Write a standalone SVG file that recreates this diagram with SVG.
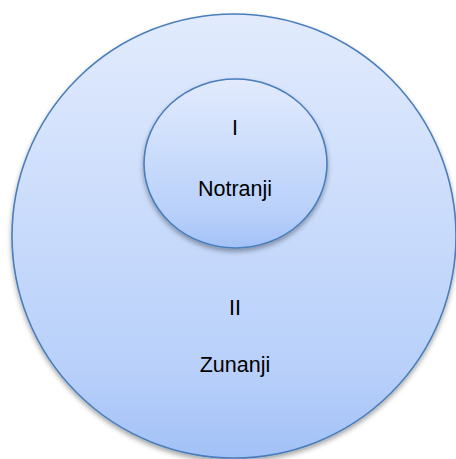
<svg xmlns="http://www.w3.org/2000/svg" width="456" height="459" viewBox="0 0 456 459">
<defs>
<linearGradient id="g" x1="0" y1="0" x2="0" y2="1">
<stop offset="0" stop-color="#e2ebfd"/>
<stop offset="0.8" stop-color="#b8d0fa"/>
<stop offset="1" stop-color="#a3c1f7"/>
</linearGradient>
<filter id="sh" x="-10%" y="-10%" width="120%" height="125%">
<feDropShadow dx="0" dy="3" stdDeviation="2.5" flood-color="#000" flood-opacity="0.35"/>
</filter>
</defs>
<style>
.c{fill:url(#g);stroke:#4a7ebb;stroke-width:1.6;filter:url(#sh)}
.t{font-family:"Liberation Sans",Arial,sans-serif;font-size:21.5px;fill:#000;text-anchor:middle}
</style>
<rect width="456" height="459" fill="#fff"/>
<g id="outer">
<ellipse class="c" cx="234" cy="236" rx="222" ry="222"/>
<text class="t" x="235" y="315">II</text>
<text class="t" x="235" y="372">Zunanji</text>
</g>
<g id="inner">
<ellipse class="c" cx="235.5" cy="163.5" rx="91.5" ry="84.5"/>
<text class="t" x="235" y="135">I</text>
<text class="t" x="235" y="196">Notranji</text>
</g>
<g id="connectors"/>
</svg>
